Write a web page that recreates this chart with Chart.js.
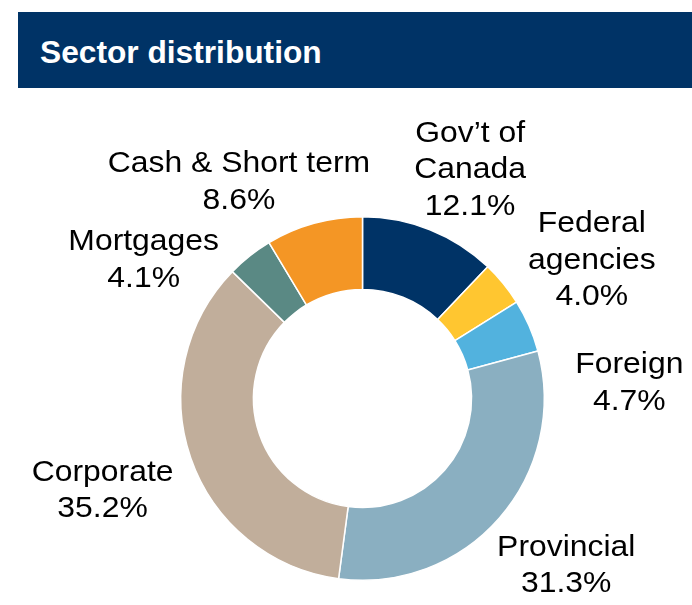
<!DOCTYPE html>
<html>
<head>
<meta charset="utf-8">
<script src="https://cdn.jsdelivr.net/npm/chart.js@4"></script>
<style>
  html, body { margin: 0; padding: 0; background: #fff; }
  #wrap { position: relative; width: 692px; height: 605px; overflow: hidden; }
  #header { position: absolute; left: 18px; top: 12px; width: 674px; height: 76px; background: #003366; }
  #title { position: absolute; left: 40px; top: 37px; color: #fff; font: bold 31.7px "Liberation Sans", Arial, sans-serif; line-height: 1; white-space: nowrap; }
  #chartBox { position: absolute; left: 0; top: 0; width: 692px; height: 605px; }
</style>
</head>
<body>
<div id="wrap">
  <div id="header"></div>
  <div id="title">Sector distribution</div>
  <div id="chartBox"><canvas id="donut"></canvas></div>
</div>
<script>
// sectors, clockwise from 12 o'clock
const sectors = ['Gov\u2019t of Canada', 'Federal agencies', 'Foreign', 'Provincial', 'Corporate', 'Mortgages', 'Cash & Short term'];
const labelLines = [['Gov\u2019t of', 'Canada'], ['Federal', 'agencies'], ['Foreign'], ['Provincial'], ['Corporate'], ['Mortgages'], ['Cash & Short term']];
const weights = [12.1, 4.0, 4.7, 31.3, 35.2, 4.1, 8.6];
const sectorColors = ['#003366', '#FFC630', '#52B2DE', '#8AAFC1', '#C1AE9B', '#5A8984', '#F49625'];

// label anchors (first baseline), in units of the outer radius from the centre
const labelAnchors = [[0.592, -1.412], [1.262, -0.916], [1.468, -0.138], [1.121, 0.865], [-1.430, 0.452], [-1.204, -0.815], [-0.680, -1.245]];

const outsideLabels = {
    id: 'outsideLabels',
    afterDatasetsDraw(chart) {
        const ctx = chart.ctx;
        const meta = chart.getDatasetMeta(0);
        const arc0 = meta.data[0];
        const cx = arc0.x, cy = arc0.y, R = arc0.outerRadius;
        const stretch = 1.1; // reference text is a bit wide for its height
        ctx.save();
        ctx.fillStyle = '#000';
        ctx.font = '29px "Liberation Sans", Arial, sans-serif';
        ctx.textAlign = 'center';
        ctx.textBaseline = 'alphabetic';
        weights.forEach((v, i) => {
            const lines = labelLines[i].concat([v.toFixed(1) + '%']);
            const x = cx + labelAnchors[i][0] * R;
            let y = cy + labelAnchors[i][1] * R;
            lines.forEach(t => {
                ctx.save();
                ctx.translate(x, y);
                ctx.scale(stretch, 1);
                ctx.fillText(t, 0, 0);
                ctx.restore();
                y += 36.5;
            });
        });
        ctx.restore();
    }
};

new Chart(document.getElementById('donut'), {
    type: 'doughnut',
    data: {
        labels: sectors,
        datasets: [{
            data: weights,
            backgroundColor: sectorColors,
            borderColor: '#ffffff',
            borderWidth: 1.5
        }]
    },
    options: {
        responsive: true,
        maintainAspectRatio: false,
        animation: false,
        cutout: '60%',
        layout: { padding: { top: 216, bottom: 24, left: 180, right: 147 } },
        plugins: { legend: { display: false }, tooltip: { enabled: false } }
    },
    plugins: [outsideLabels]
});
</script>
</body>
</html>
